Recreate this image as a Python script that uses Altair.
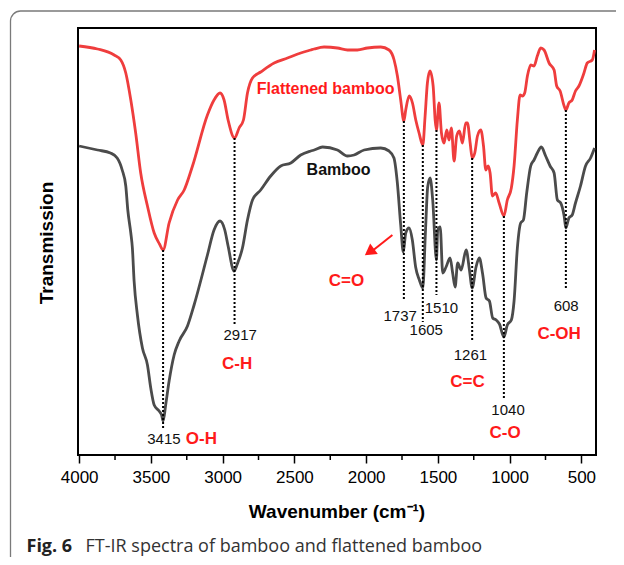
import altair as alt
import pandas as pd

# ---------------- data ----------------
# Flattened bamboo spectrum (wavenumber, transmission a.u.)
wn_flat = [4000, 3872, 3756, 3710, 3675, 3640, 3606, 3571, 3524, 3477, 3440, 3415,
           3373, 3314, 3268, 3210, 3106, 3060, 3018, 2990, 2962, 2917, 2885, 2855,
           2827, 2792, 2735, 2641, 2548, 2456, 2386, 2362, 2293, 2200, 2130, 2061,
           1991, 1898, 1840, 1805, 1782, 1759, 1737, 1724, 1700, 1677, 1654, 1631,
           1605, 1589, 1573, 1555, 1533, 1519, 1510, 1492, 1475, 1457, 1438, 1422,
           1406, 1387, 1369, 1350, 1329, 1306, 1294, 1275, 1261, 1243, 1224, 1201,
           1182, 1166, 1150, 1136, 1120, 1097, 1073, 1040, 1016, 988, 969, 946,
           927, 911, 895, 876, 853, 830, 807, 783, 760, 725, 690, 672, 648, 620,
           608, 587, 564, 541, 517, 482, 459, 424, 408]
tr_flat = [409, 406, 400, 395, 382, 355, 322, 282, 249, 222, 211, 205,
           232, 255, 265, 289, 340, 355, 362, 355, 335, 317, 327, 335,
           362, 377, 383, 392, 397, 402, 405, 406, 408, 407, 405, 405,
           407, 408, 405, 395, 379, 355, 334, 345, 359, 352, 335, 322,
           310, 339, 372, 384, 369, 335, 325, 352, 322, 312, 325, 315,
           327, 294, 319, 324, 312, 332, 332, 312, 297, 302, 319, 325,
           309, 285, 289, 282, 259, 262, 252, 239, 255, 267, 289, 335,
           360, 359, 362, 379, 390, 389, 399, 407, 405, 392, 385, 369, 364, 349,
           345, 352, 355, 364, 369, 382, 392, 395, 405]

# Bamboo spectrum
wn_bam = [4000, 3872, 3782, 3735, 3700, 3675, 3661, 3640, 3629, 3617, 3594, 3559,
          3524, 3501, 3477, 3443, 3425, 3415, 3397, 3373, 3338, 3303, 3245, 3199,
          3106, 3060, 3018, 2985, 2962, 2920, 2895, 2862, 2827, 2792, 2735, 2665,
          2595, 2525, 2456, 2386, 2362, 2304, 2200, 2130, 2084, 2014, 1898, 1840,
          1806, 1783, 1759, 1741, 1724, 1701, 1678, 1655, 1629, 1605, 1587, 1571,
          1554, 1536, 1510, 1501, 1484, 1466, 1443, 1415, 1397, 1380, 1362, 1338,
          1303, 1280, 1261, 1234, 1211, 1188, 1164, 1141, 1118, 1094, 1071, 1040,
          1016, 988, 969, 946, 923, 904, 881, 853, 830, 807, 779, 749, 718, 690,
          667, 644, 620, 608, 587, 564, 541, 506, 471, 436, 408]
tr_bam = [309, 305, 302, 297, 285, 269, 245, 222, 207, 174, 140, 107,
          90, 67, 50, 44, 40, 34, 50, 74, 100, 114, 129, 150,
          200, 225, 234, 225, 209, 184, 192, 207, 235, 255, 265, 279,
          289, 292, 300, 304, 305, 308, 305, 299, 300, 305, 307, 304,
          297, 273, 230, 203, 222, 227, 215, 188, 175, 167, 222, 268,
          277, 255, 195, 225, 228, 182, 188, 197, 182, 168, 192, 185,
          205, 185, 167, 188, 197, 181, 157, 154, 137, 135, 131, 118,
          130, 135, 154, 207, 232, 235, 262, 289, 295, 302, 308, 299, 289, 282,
          255, 252, 239, 227, 237, 240, 252, 269, 289, 297, 307]

series_names = ["Flattened bamboo", "Bamboo"]
series_colors = ["#ef3d3d", "#4b4b4b"]
series_label_x = [2282, 2192]
series_label_y = [366, 285]
series_label_colors = ["#ff1a1a", "#111111"]

# dotted peak markers
peak_wn = [3415, 2917, 1737, 1605, 1510, 1261, 1040, 608]
peak_top = [205, 317, 334, 310, 325, 297, 239, 345]
peak_bottom = [25, 130, 154, 133, 160, 115, 55, 165]

# numeric peak labels
num_text = ["3415", "2917", "1737", "1605", "1510", "1261", "1040", "608"]
num_x = [3409, 2878, 1763, 1581, 1475, 1273, 1011, 606]
num_y = [16, 120, 139, 125, 147, 100, 45, 149]

# functional group labels
grp_text = ["O-H", "C-H", "C=O", "C=C", "C-O", "C-OH"]
grp_x = [3148, 2899, 2137, 1294, 1032, 655]
grp_y = [16, 91, 174, 73, 22, 121]

# arrow towards C=O
arrow_x = [1817, 1949]
arrow_y = [220, 205]
arrow_head_x = [1977]
arrow_head_y = [203]

major_ticks = [4000, 3500, 3000, 2500, 2000, 1500, 1000, 500]
minor_ticks = [3750, 3250, 2750, 2250, 1750, 1250, 750]

# ---------------- build ----------------
W, H = 518, 427
FONT = "Liberation Sans"

spec = pd.concat([
    pd.DataFrame({"wn": wn_flat, "tr": tr_flat, "series": series_names[0], "order": range(len(wn_flat))}),
    pd.DataFrame({"wn": wn_bam, "tr": tr_bam, "series": series_names[1], "order": range(len(wn_bam))}),
])

xscale = alt.Scale(domain=[4008, 398], nice=False, zero=False)
yscale = alt.Scale(domain=[0, H], nice=False, zero=False)

xaxis = alt.Axis(values=major_ticks, domain=False, grid=False, ticks=True, tickSize=8,
                 tickWidth=1.5, tickColor="black", labelFont=FONT, labelFontSize=17,
                 labelColor="black", labelPadding=6, title=None, format="d",
                 labelFlush=False, labelOverlap=False)


def X(field):
    return alt.X(field, scale=xscale, axis=xaxis)


def Y(field):
    return alt.Y(field, scale=yscale, axis=None)


lines = alt.Chart(spec).mark_line(strokeWidth=2.8, interpolate="monotone").encode(
    x=X("wn:Q"),
    y=Y("tr:Q"),
    color=alt.Color("series:N", scale=alt.Scale(domain=series_names, range=series_colors), legend=None),
    order="order:Q",
    detail="series:N",
)

peaks_df = pd.DataFrame({"wn": peak_wn, "y1": peak_top, "y2": peak_bottom})
peaks = alt.Chart(peaks_df).mark_rule(color="black", strokeWidth=2, strokeDash=[2, 2]).encode(
    x=X("wn:Q"),
    y=Y("y1:Q"),
    y2="y2:Q",
)

minor_df = pd.DataFrame({"wn": minor_ticks})
minor = alt.Chart(minor_df).mark_rule(color="black", strokeWidth=1.5).encode(
    x=X("wn:Q"),
    y=alt.value(H),
    y2=alt.value(H + 5),
)

num_df = pd.DataFrame({"t": num_text, "x": num_x, "y": num_y})
nums = alt.Chart(num_df).mark_text(font=FONT, fontSize=15, color="#111111",
                                   align="center", baseline="middle").encode(
    x=X("x:Q"),
    y=Y("y:Q"),
    text="t:N",
)

grp_df = pd.DataFrame({"t": grp_text, "x": grp_x, "y": grp_y})
grps = alt.Chart(grp_df).mark_text(font=FONT, fontSize=17, fontWeight="bold", color="#ff1a1a",
                                   align="center", baseline="middle").encode(
    x=X("x:Q"),
    y=Y("y:Q"),
    text="t:N",
)

lab_df = pd.DataFrame({"t": series_names, "x": series_label_x, "y": series_label_y,
                       "c": series_label_colors})
labs = alt.Chart(lab_df).mark_text(font=FONT, fontSize=16, fontWeight="bold",
                                   align="center", baseline="middle").encode(
    x=X("x:Q"),
    y=Y("y:Q"),
    text="t:N",
    color=alt.Color("c:N", scale=None),
)

arrow_df = pd.DataFrame({"x": [arrow_x[0]], "y": [arrow_y[0]], "x2": [arrow_x[1]], "y2": [arrow_y[1]]})
arrow = alt.Chart(arrow_df).mark_rule(color="#ff1a1a", strokeWidth=2).encode(
    x=X("x:Q"),
    y=Y("y:Q"),
    x2="x2:Q", y2="y2:Q",
)
head_df = pd.DataFrame({"x": arrow_head_x, "y": arrow_head_y})
head = alt.Chart(head_df).mark_point(shape="triangle-up", filled=True, color="#ff1a1a",
                                     size=170, angle=234, opacity=1).encode(
    x=X("x:Q"),
    y=Y("y:Q"),
)

one = pd.DataFrame({"a": [0]})
border = alt.Chart(one).mark_rect(fill="transparent", stroke="#7a7a7a", strokeWidth=1.3,
                                  cornerRadius=10).encode(
    x=alt.value(-67.5), x2=alt.value(W + 200), y=alt.value(-17), y2=alt.value(H + 200),
)

xtitle = alt.Chart(one).mark_text(text="Wavenumber (cm⁻¹)", font=FONT, fontSize=19,
                                  fontWeight="bold", color="black", align="center",
                                  baseline="middle").encode(
    x=alt.value(W / 2), y=alt.value(484),
)
ytitle = alt.Chart(one).mark_text(text="Transmission", font=FONT, fontSize=19,
                                  fontWeight="bold", color="black", align="center",
                                  baseline="middle", angle=270).encode(
    x=alt.value(-31), y=alt.value(215),
)
cap1 = alt.Chart(one).mark_text(text="Fig. 6", font="Open Sans", fontSize=18,
                                fontWeight="bold", color="#222222", align="left",
                                baseline="middle").encode(
    x=alt.value(-51.5), y=alt.value(519),
)
cap2 = alt.Chart(one).mark_text(text="FT-IR spectra of bamboo and flattened bamboo",
                                font="Open Sans", fontSize=18, color="#333333", align="left",
                                baseline="middle").encode(
    x=alt.value(7.5), y=alt.value(519),
)

chart = alt.layer(
    border, lines, peaks, minor, nums, grps, labs, arrow, head, xtitle, ytitle, cap1, cap2
).properties(
    width=W, height=H,
    padding={"left": 70, "top": 20, "right": 20, "bottom": 102},
    autosize="none",
    background="white",
).configure_view(stroke="black", strokeWidth=2)

chart.save("out.html", embed_options={"renderer": "svg", "actions": False})
